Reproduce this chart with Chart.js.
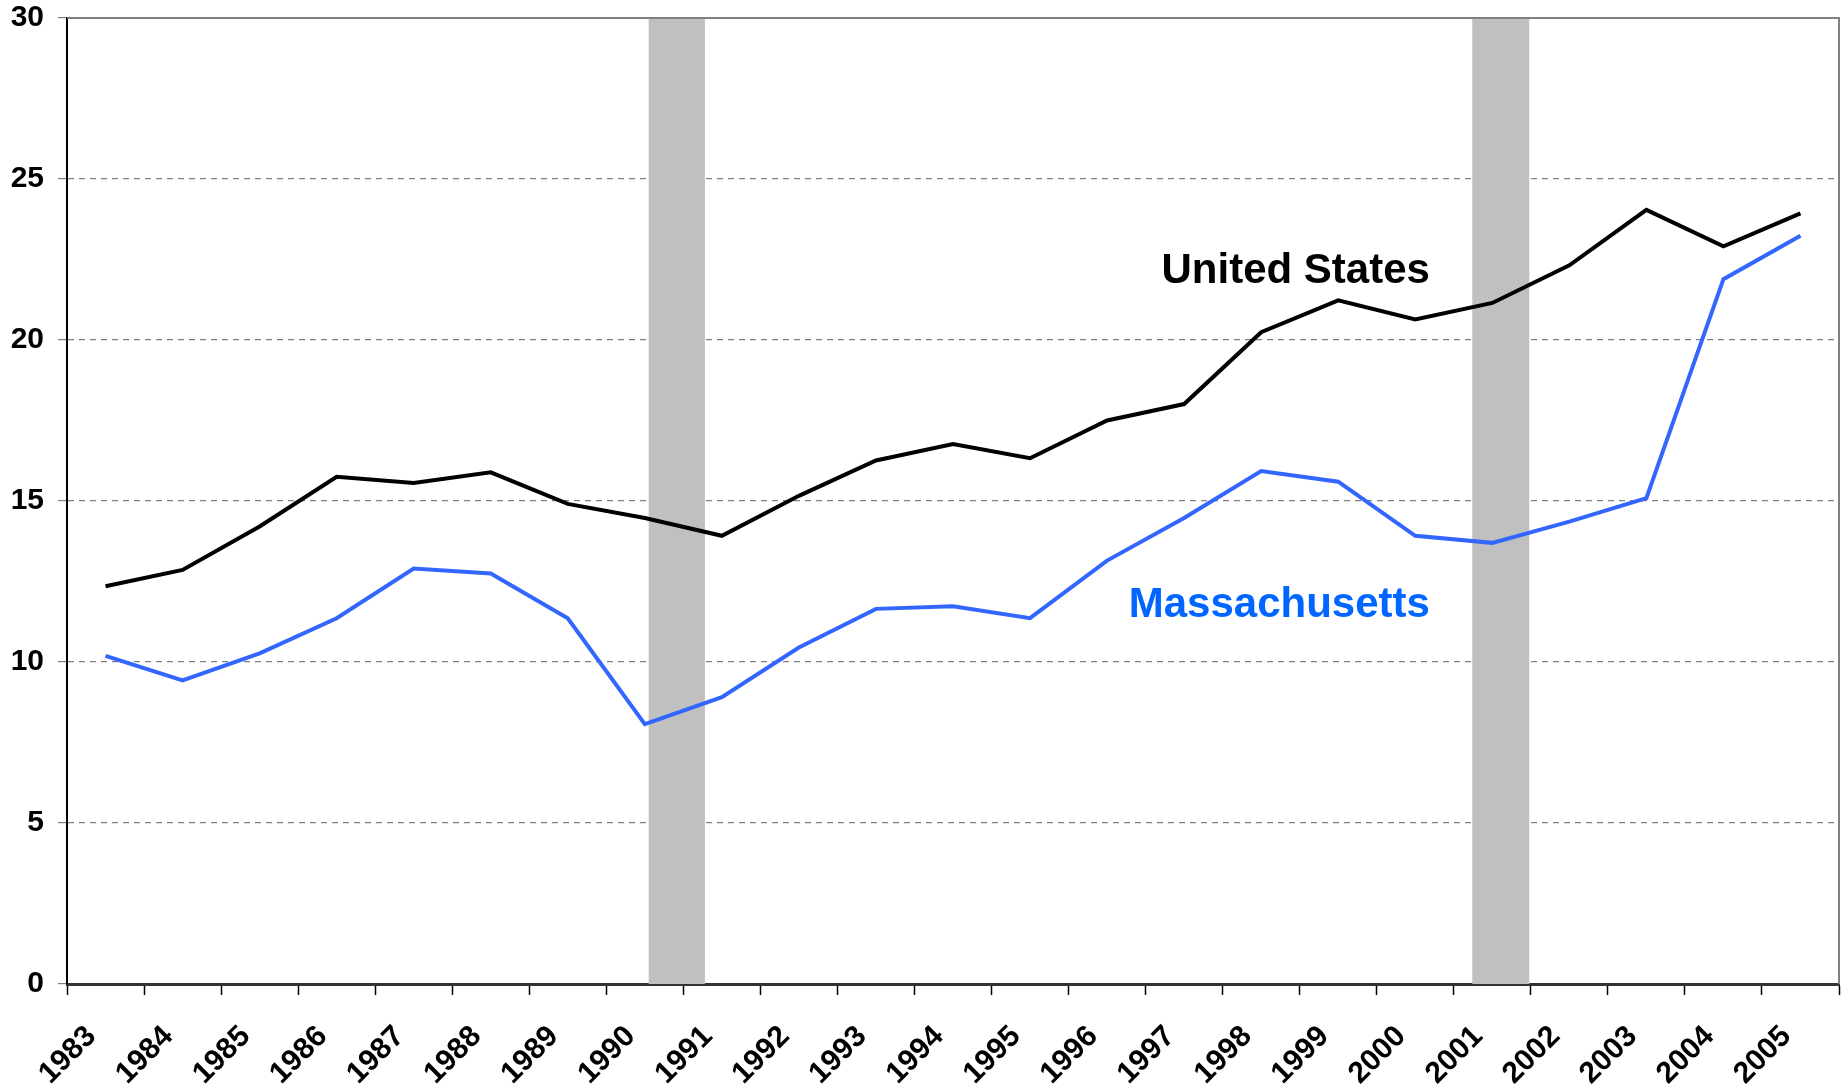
<!DOCTYPE html>
<html lang="en">
<head>
  <meta charset="UTF-8">
  <title>United States vs Massachusetts</title>
  <script src="https://cdn.jsdelivr.net/npm/chart.js"></script>
  <style>
    body {
      margin: 0;
      background: #fff;
    }
    #wrap {
      width: 1846px;
      height: 1090px;
    }
  </style>
</head>
<body>
  <div id="wrap"><canvas id="chart"></canvas></div>

  <script>
    // categories
    const years = ['1983', '1984', '1985', '1986', '1987', '1988', '1989', '1990', '1991', '1992', '1993', '1994',
                   '1995', '1996', '1997', '1998', '1999', '2000', '2001', '2002', '2003', '2004', '2005'];

    // series
    const unitedStates = [12.35, 12.86, 14.21, 15.75, 15.56, 15.89, 14.91, 14.47, 13.92, 15.16, 16.26, 16.77,
                          16.33, 17.50, 18.01, 20.24, 21.23, 20.64, 21.15, 22.32, 24.04, 22.91, 23.93];
    const massachusetts = [10.19, 9.43, 10.27, 11.36, 12.90, 12.75, 11.36, 8.07, 8.91, 10.45, 11.65, 11.73,
                           11.36, 13.15, 14.47, 15.93, 15.60, 13.92, 13.70, 14.36, 15.09, 21.89, 23.24];

    // recession periods, in fractional years
    const recessions = [[1990.55, 1991.28], [2001.24, 2001.98]];

    // y tick values
    const yTicks = [0, 5, 10, 15, 20, 25, 30];

    const firstYear = Number(years[0]);
    // a fractional year -> category index (year Y spans [Y, Y+1))
    const yearToIndex = y => y - firstYear - 0.5;

    // shaded recession bars, behind the lines
    const recessionPlugin = {
      id: 'recessions',
      beforeDatasetsDraw(chart) {
        const { ctx, chartArea, scales } = chart;
        ctx.save();
        ctx.fillStyle = '#c0c0c0';
        recessions.forEach(([a, b]) => {
          const x1 = scales.x.getPixelForValue(yearToIndex(a));
          const x2 = scales.x.getPixelForValue(yearToIndex(b));
          ctx.fillRect(x1, chartArea.top, x2 - x1, chartArea.bottom - chartArea.top);
        });
        ctx.restore();
      }
    };

    // top and right frame lines
    const framePlugin = {
      id: 'frame',
      afterDraw(chart) {
        const { ctx, chartArea } = chart;
        ctx.save();
        ctx.strokeStyle = '#808080';
        ctx.lineWidth = 2;
        ctx.beginPath();
        ctx.moveTo(chartArea.left, chartArea.top);
        ctx.lineTo(chartArea.right, chartArea.top);
        ctx.lineTo(chartArea.right, chartArea.bottom);
        ctx.stroke();
        ctx.restore();
      }
    };

    // series labels placed in data coordinates, right aligned
    const seriesLabels = [
      { text: 'United States', year: 2000.19, value: 21.78, color: '#000000' },
      { text: 'Massachusetts', year: 2000.19, value: 11.39, color: '#0066ff' }
    ];
    const labelPlugin = {
      id: 'seriesLabels',
      afterDatasetsDraw(chart) {
        const { ctx, scales } = chart;
        ctx.save();
        ctx.font = 'bold 42px "Liberation Sans", Arial, sans-serif';
        ctx.textAlign = 'right';
        ctx.textBaseline = 'alphabetic';
        seriesLabels.forEach(l => {
          ctx.fillStyle = l.color;
          ctx.fillText(l.text, scales.x.getPixelForValue(l.year - firstYear), scales.y.getPixelForValue(l.value));
        });
        ctx.restore();
      }
    };

    const tickFont = { family: '"Liberation Sans", Arial, sans-serif', size: 30, weight: 'bold' };

    new Chart(document.getElementById('chart'), {
      type: 'line',
      data: {
        labels: years,
        datasets: [{
          label: 'United States',
          data: unitedStates,
          borderColor: '#000000',
          borderWidth: 4,
          pointRadius: 0,
          tension: 0
        }, {
          label: 'Massachusetts',
          data: massachusetts,
          borderColor: '#3366ff',
          borderWidth: 4,
          pointRadius: 0,
          tension: 0
        }]
      },
      options: {
        responsive: true,
        maintainAspectRatio: false,
        animation: false,
        layout: { padding: { top: 18, right: 7, left: 0, bottom: 0 } },
        plugins: {
          legend: { display: false },
          tooltip: { enabled: false }
        },
        scales: {
          x: {
            type: 'category',
            offset: true,
            afterFit: s => {
              s.height = 106;
              s.paddingLeft = 0;
              s.paddingRight = 0;
            },
            grid: {
              offset: true,
              drawOnChartArea: false,
              drawTicks: true,
              tickLength: 11,
              tickColor: '#000',
              tickWidth: 1.5
            },
            border: { color: '#333', width: 3 },
            ticks: {
              color: '#000',
              font: tickFont,
              minRotation: 45,
              maxRotation: 45,
              autoSkip: false,
              padding: 24,
              labelOffset: -14
            }
          },
          y: {
            min: 0,
            max: 30,
            afterFit: s => {
              s.width = 67;
              s.paddingTop = 0;
              s.paddingBottom = 0;
            },
            afterBuildTicks: s => { s.ticks = yTicks.map(v => ({ value: v })); },
            grid: {
              color: '#808080',
              lineWidth: 1.2,
              drawTicks: true,
              tickLength: 9,
              tickColor: '#808080'
            },
            border: { color: '#000', width: 2, dash: [6, 5] },
            ticks: {
              color: '#000',
              font: tickFont,
              padding: 14
            }
          }
        }
      },
      plugins: [recessionPlugin, framePlugin, labelPlugin]
    });
  </script>
</body>
</html>
